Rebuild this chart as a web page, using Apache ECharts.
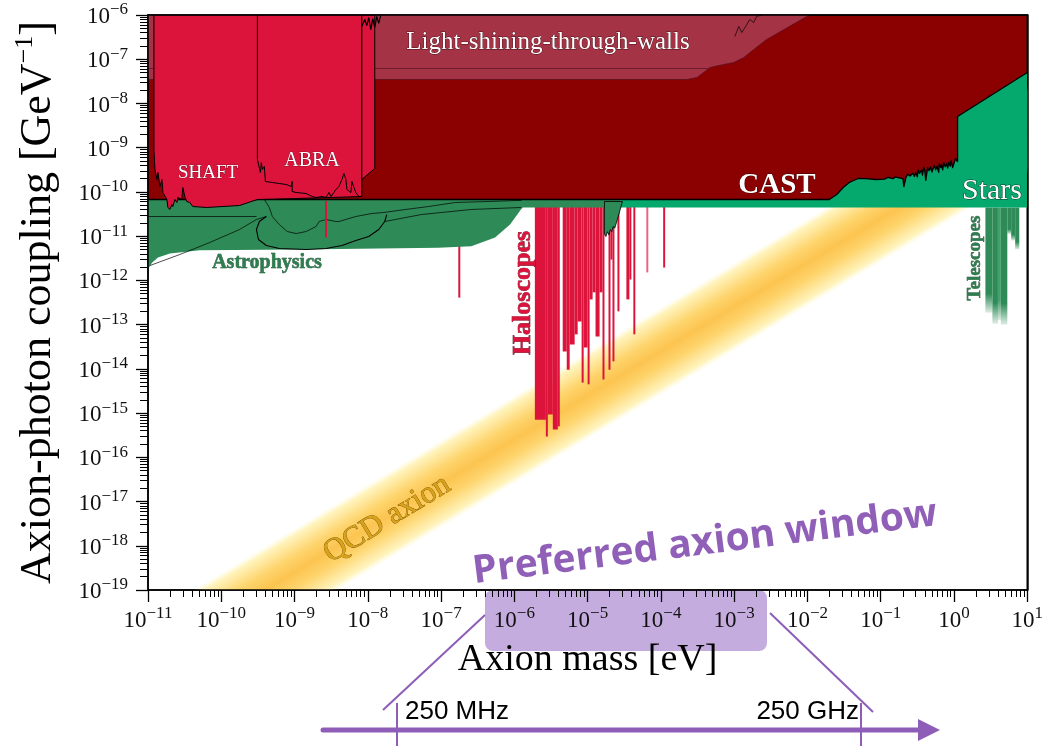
<!DOCTYPE html>
<html><head><meta charset="utf-8">
<script src="https://cdn.jsdelivr.net/npm/echarts@6/dist/echarts.min.js"></script>
<style>html,body{margin:0;padding:0;background:#fff}#c{width:1046px;height:746px}</style>
</head><body><div id="c"></div>
<script>
// All values: x = log10(axion mass / eV), y = log10(g_agamma / GeV^-1)
const massDecades = [-11,-10,-9,-8,-7,-6,-5,-4,-3,-2,-1,0,1];
const couplingDecades = [-19,-18,-17,-16,-15,-14,-13,-12,-11,-10,-9,-8,-7,-6];

// QCD axion band: log g = log m + offset, +/- half width (decades)
const qcdBandLogMass = [-12, 2];
const qcdOffsetLog = -9.6;
const qcdHalfWidth = 1.0;

const lswRegion = [[-11,-6],[-1.973,-6],[-2.557,-6.554],[-2.733,-6.78],[-2.869,-6.961],[-3.005,-7.074],[-3.141,-7.119],[-3.331,-7.187],[-3.398,-7.277],[-3.507,-7.413],[-3.643,-7.458],[-11,-7.458]];
const lswInnerLine = [[-11,-7.21],[-3.331,-7.21]];
const lswWiggle = [[-2.991,-6.486],[-2.937,-6.26],[-2.896,-6.396],[-2.828,-6.217],[-2.788,-6.102],[-2.733,-6.17],[-2.693,-6.03],[-2.62,-6.0]];

const castRegion = [[-11,-6],[1,-6],[1,-7.30],[0.049,-8.295],[0.049,-9.312],[0.02,-9.25],[-0.018,-9.448],[-0.04,-9.30],[-0.05,-9.42],[-0.07,-9.33],[-0.086,-9.46],[-0.10,-9.36],[-0.12,-9.43],[-0.14,-9.34],[-0.154,-9.50],[-0.17,-9.38],[-0.18,-9.45],[-0.20,-9.36],[-0.209,-9.56],[-0.23,-9.42],[-0.25,-9.50],[-0.27,-9.40],[-0.30,-9.55],[-0.32,-9.44],[-0.34,-9.52],[-0.36,-9.45],[-0.385,-9.74],[-0.40,-9.50],[-0.412,-9.44],[-0.43,-9.62],[-0.44,-9.50],[-0.47,-9.58],[-0.49,-9.50],[-0.50,-9.66],[-0.521,-9.56],[-0.54,-9.65],[-0.56,-9.58],[-0.60,-9.64],[-0.63,-9.60],[-0.656,-9.674],[-0.684,-9.88],[-0.697,-9.70],[-0.75,-9.68],[-0.80,-9.66],[-0.833,-9.70],[-0.90,-9.67],[-0.95,-9.71],[-1.064,-9.719],[-1.20,-9.70],[-1.308,-9.697],[-1.43,-9.787],[-1.512,-9.90],[-1.60,-10.06],[-1.702,-10.171],[-11,-10.171]];

const starsRegion = [[-4.552,-10.352],[1,-10.352],[1,-6.5],[-4.552,-6.5]];

const astroRegion = [[-11,-10.171],[-4.552,-10.171],[-4.552,-10.352],[-5.883,-10.352],[-5.910,-10.397],[-6.059,-10.737],[-6.263,-11.03],[-6.588,-11.23],[-7.036,-11.26],[-8.937,-11.30],[-10.294,-11.32],[-10.701,-11.39],[-10.864,-11.48],[-10.946,-11.60],[-11,-11.75]];
const astroWedge = [[-4.770,-10.217],[-4.770,-10.95],[-4.75,-11.008],[-4.73,-10.90],[-4.71,-10.97],[-4.69,-10.85],[-4.67,-10.90],[-4.65,-10.78],[-4.63,-10.82],[-4.59,-10.60],[-4.525,-10.217]];
const astroLines = [
  [[-11,-10.556],[-9.52,-10.556]],
  [[-10.973,-11.664],[-10.566,-11.415],[-10.158,-11.144],[-9.751,-10.850],[-9.52,-10.624],[-9.385,-10.556]],
  [[-9.412,-10.171],[-9.344,-10.352],[-9.303,-10.556],[-9.208,-10.737],[-9.100,-10.895],[-8.978,-10.941],[-8.842,-10.895],[-8.706,-10.782],[-8.665,-10.669],[-8.570,-10.624],[-8.435,-10.669],[-8.394,-10.669],[-8.163,-10.556],[-7.946,-10.488],[-7.783,-10.465],[-7.484,-10.397],[-7.172,-10.330],[-6.805,-10.239],[-6.358,-10.217],[-5.9,-10.19]],
  [[-9.385,-10.556],[-9.480,-10.669],[-9.520,-10.850],[-9.493,-11.076],[-9.385,-11.212],[-9.208,-11.280],[-8.842,-11.302],[-8.570,-11.280],[-8.353,-11.212],[-8.163,-11.099],[-7.987,-11.008],[-7.851,-10.850],[-7.769,-10.669],[-7.742,-10.511]],
  [[-7.769,-10.669],[-7.267,-10.511],[-6.588,-10.397],[-5.910,-10.352]]
];

// SHAFT + low-mass lumped haloscope region
const lowMassHaloRegion = [[-10.919,-6],[-8.082,-6],[-8.082,-10.104],[-8.5,-10.126],[-9.0,-10.15],[-9.507,-10.171],[-9.751,-10.307],[-10.199,-10.352],[-10.389,-10.330],[-10.430,-10.239],[-10.471,-10.217],[-10.498,-10.104],[-10.525,-9.900],[-10.539,-10.171],[-10.593,-10.126],[-10.606,-10.239],[-10.633,-10.171],[-10.661,-10.330],[-10.674,-10.284],[-10.701,-10.397],[-10.729,-10.352],[-10.742,-10.171],[-10.796,-10.013],[-10.810,-9.719],[-10.837,-9.877],[-10.864,-9.561],[-10.878,-9.719],[-10.905,-9.493],[-10.919,-9.041]];
const abraEdge = [[-9.507,-6],[-9.507,-9.267],[-9.466,-9.561],[-9.453,-9.335],[-9.439,-9.493],[-9.412,-9.425],[-9.398,-9.764],[-9.371,-9.787],[-9.303,-9.787],[-9.208,-9.810],[-9.113,-9.832],[-9.045,-9.877],[-9.032,-9.764],[-9.032,-9.991],[-8.978,-10.013],[-8.842,-10.036],[-8.760,-10.104],[-8.706,-10.126],[-8.625,-10.104],[-8.570,-10.126],[-8.530,-10.013],[-8.502,-10.104],[-8.435,-9.945],[-8.394,-9.877],[-8.353,-9.719],[-8.326,-9.584],[-8.299,-9.719],[-8.285,-9.945],[-8.231,-10.013],[-8.217,-9.764],[-8.190,-9.900],[-8.163,-10.013],[-8.122,-10.104],[-8.082,-10.104]];
const extraStripRegion = [[-8.082,-6],[-7.905,-6],[-7.905,-9.47],[-8.082,-9.72]];
const stripTopNoise = [[-8.082,-6.26],[-8.041,-6.10],[-8.014,-6.24],[-7.987,-6.06],[-7.960,-6.33],[-7.932,-6.08],[-7.905,-6.28],[-7.878,-6.03],[-7.851,-6.19],[-7.824,-6.01]];

// Haloscope exclusion columns: [log m left, log m right, log g bottom]; top at haloTop
const haloTop = -10.2;
const haloscopeColumns = [
  [-6.765,-6.738,-12.39],
  [-5.720,-5.570,-15.15],[-5.570,-5.543,-15.53],[-5.543,-5.475,-15.03],[-5.475,-5.407,-15.37],[-5.407,-5.380,-15.30],
  [-5.340,-5.285,-13.61],[-5.285,-5.245,-14.02],[-5.245,-5.177,-13.45],[-5.177,-5.136,-13.22],[-5.136,-5.082,-12.93],
  [-5.082,-5.054,-14.31],[-5.054,-5.000,-13.52],[-5.000,-4.973,-14.35],[-4.973,-4.932,-12.43],[-4.932,-4.892,-12.27],
  [-4.892,-4.837,-13.27],[-4.837,-4.797,-12.27],[-4.797,-4.770,-14.24],[-4.715,-4.688,-14.02],[-4.688,-4.661,-11.53],
  [-4.661,-4.634,-13.83],[-4.593,-4.566,-12.70],[-4.471,-4.430,-12.43],[-4.430,-4.403,-11.98],[-4.376,-4.349,-13.22],
  [-4.199,-4.172,-11.82],[-3.969,-3.942,-11.71]
];
const haloscopeOverAstro = [[-8.584,-8.557,-11.03]];

const telescopeTop = -10.352;
const telescopeColumns = [[0.429,0.524,-12.73],[0.524,0.600,-12.98],[0.600,0.640,-12.90],[0.640,0.728,-13.00],[0.728,0.78,-10.95],[0.78,0.835,-11.10],[0.835,0.891,-11.30]];

const SERIF = "'Liberation Serif','DejaVu Serif',serif";
const minorMass = [], minorCoup = [];
massDecades.slice(0,-1).forEach(n => { for (let k=2;k<=9;k++) minorMass.push(n+Math.log10(k)); });
couplingDecades.slice(0,-1).forEach(n => { for (let k=2;k<=9;k++) minorCoup.push(n+Math.log10(k)); });

function decadeLabel(v){ const e=Math.round(v); return '{b|10}{e|'+(e<0?'\u2212':'')+Math.abs(e)+'}'; }
const richTick = {
  b:{fontFamily:SERIF,fontSize:23,lineHeight:27,verticalAlign:'bottom',color:'#111'},
  e:{fontFamily:SERIF,fontSize:17,lineHeight:17,verticalAlign:'top',color:'#111'}
};

function polySeries(pts, fill, stroke, lw, z){
  return {type:'custom',coordinateSystem:'cartesian2d',clip:true,silent:true,z:z,
    data:pts, encode:{x:0,y:1},
    renderItem:function(params,api){
      if(params.dataIndex!==0) return null;
      return {type:'polygon',shape:{points:pts.map(p=>api.coord(p))},
        style:{fill:fill,stroke:stroke||null,lineWidth:lw||0,lineJoin:'round'}};
    }};
}
function lineSeries(pts,color,width,z){
  return {type:'line',data:pts,symbol:'none',showSymbol:false,silent:true,clip:true,z:z,
    lineStyle:{color:color,width:width},animation:false};
}
function columnSeries(cols, top, fillFn, z){
  return {type:'custom',coordinateSystem:'cartesian2d',clip:true,silent:true,z:z,
    data:cols.map(c=>[c[0],c[1],c[2],top]), encode:{x:[0,1],y:[2,3]},
    renderItem:function(params,api){
      const a=api.coord([api.value(0),api.value(3)]);
      const b=api.coord([api.value(1),api.value(2)]);
      return {type:'rect',shape:{x:a[0],y:a[1],width:Math.max(b[0]-a[0],1.5),height:b[1]-a[1]},
        style:{fill:fillFn(params.dataIndex)}};
    }};
}

const qcdSeries = {type:'custom',coordinateSystem:'cartesian2d',clip:true,silent:true,z:1,
  data:qcdBandLogMass.map(m=>[m,m+qcdOffsetLog]), encode:{x:0,y:1},
  renderItem:function(params,api){
    if(params.dataIndex!==0) return null;
    const m0=qcdBandLogMass[0], m1=qcdBandLogMass[1];
    const c0=api.coord([m0,m0+qcdOffsetLog]), c1=api.coord([m1,m1+qcdOffsetLog]);
    const u0=api.coord([m0,m0+qcdOffsetLog+qcdHalfWidth]), u1=api.coord([m1,m1+qcdOffsetLog+qcdHalfWidth]);
    const l0=api.coord([m0,m0+qcdOffsetLog-qcdHalfWidth]), l1=api.coord([m1,m1+qcdOffsetLog-qcdHalfWidth]);
    let dx=c1[0]-c0[0], dy=c1[1]-c0[1]; const len=Math.hypot(dx,dy); dx/=len; dy/=len;
    const nx=-dy, ny=dx;
    const w=(u0[0]-c0[0])*nx+(u0[1]-c0[1])*ny;
    return {type:'polygon',shape:{points:[l0,l1,u1,u0]},
      style:{fill:{type:'linear',global:true,x:c0[0]-nx*w,y:c0[1]-ny*w,x2:c0[0]+nx*w,y2:c0[1]+ny*w,
        colorStops:[{offset:0,color:'rgba(255,250,215,0)'},{offset:0.08,color:'rgba(255,244,190,1)'},
          {offset:0.32,color:'rgb(254,212,108)'},{offset:0.5,color:'rgb(252,196,80)'},
          {offset:0.68,color:'rgb(254,212,108)'},{offset:0.92,color:'rgba(255,244,190,1)'},
          {offset:1,color:'rgba(255,250,215,0)'}]}}};
  }};

const axisLineStyle={color:'#000',width:1.5};
const chart = echarts.init(document.getElementById('c'),null,{renderer:'canvas'});
const txt = (text,x,y,o)=>Object.assign({type:'text',x:x,y:y,z:100,silent:true,
  style:Object.assign({text:text,fontFamily:SERIF,fontSize:20,fill:'#fff',align:'center',verticalAlign:'middle',
    textAlign:'center',textVerticalAlign:'middle'},o.style||{})},o.el||{});
const PURPLE='#8E5DB8';

chart.setOption({
  animation:false,
  backgroundColor:'#fff',
  grid:{left:148,right:14,top:15,bottom:156,show:true,borderColor:'#000',borderWidth:1.5},
  xAxis:[
    {type:'value',min:-11,max:1,interval:1,position:'bottom',z:10,
     axisLine:{show:true,onZero:false,lineStyle:axisLineStyle},
     axisTick:{show:true,length:12,lineStyle:{color:'#000',width:1.3}},
     splitLine:{show:false},
     axisLabel:{margin:15,formatter:decadeLabel,rich:richTick},
     name:'Axion mass [eV]',nameLocation:'middle',nameGap:51,
     nameTextStyle:{fontFamily:SERIF,fontSize:38,color:'#000'}},
    {type:'value',min:-11,max:1,position:'bottom',z:10,axisLine:{show:false,onZero:false},
     axisTick:{show:true,length:7,customValues:minorMass,lineStyle:{color:'#000',width:1}},
     axisLabel:{show:false},splitLine:{show:false}},
    {type:'value',min:-11,max:1,position:'top',z:10,axisLine:{show:true,onZero:false,lineStyle:axisLineStyle},
     axisTick:{show:false},axisLabel:{show:false},splitLine:{show:false}}
  ],
  yAxis:[
    {type:'value',min:-19,max:-6,interval:1,position:'left',z:10,
     axisLine:{show:true,onZero:false,lineStyle:axisLineStyle},
     axisTick:{show:true,length:12,lineStyle:{color:'#000',width:1.3}},
     splitLine:{show:false},
     axisLabel:{margin:20,formatter:decadeLabel,rich:richTick},
     name:'{a|Axion-photon coupling [GeV}{s|\u22121}{a|]}',nameLocation:'middle',nameGap:88,
     nameTextStyle:{rich:{a:{fontFamily:SERIF,fontSize:44,lineHeight:48,verticalAlign:'bottom',color:'#000'},
       s:{fontFamily:SERIF,fontSize:26,lineHeight:26,verticalAlign:'top',color:'#000'}}}},
    {type:'value',min:-19,max:-6,position:'left',z:10,axisLine:{show:false,onZero:false},
     axisTick:{show:true,length:8,customValues:minorCoup,lineStyle:{color:'#000',width:1}},
     axisLabel:{show:false},splitLine:{show:false}},
    {type:'value',min:-19,max:-6,position:'right',z:10,axisLine:{show:true,onZero:false,lineStyle:axisLineStyle},
     axisTick:{show:false},axisLabel:{show:false},splitLine:{show:false}}
  ],
  series:[
    qcdSeries,
    columnSeries(telescopeColumns,telescopeTop,i=>({type:'linear',x:0,y:0,x2:0,y2:1,
      colorStops:[{offset:0,color:i===2?'#45a070':'#2E8B57'},{offset:0.82,color:i===2?'#45a070':'#2E8B57'},{offset:1,color:'rgba(46,139,87,0.15)'}]}),2),
    columnSeries(haloscopeColumns,haloTop,i=>(i===26?'rgba(220,20,60,0.65)':'#DC143C'),2),
    polySeries(starsRegion,'#05A86D',null,0,3),
    polySeries(astroRegion,'#2E8B57',null,0,4),
    polySeries(astroWedge,'#2E8B57','#000',0.8,4),
    ...astroLines.map((l,i)=>lineSeries(l,'#000',i===3?1.1:0.7,5)),
    columnSeries(haloscopeOverAstro,haloTop,()=> '#DC143C',6),
    polySeries(castRegion,'#8B0000','#000',1.3,7),
    polySeries(lswRegion,'#A53346','#5a1020',0.8,8),
    lineSeries(lswInnerLine,'#6d1c2c',1,8),
    lineSeries(lswWiggle,'#000',0.7,8),
    polySeries(lowMassHaloRegion,'#DC143C','#000',1,9),
    polySeries(extraStripRegion,'#DC143C','#000',1,9),
    lineSeries(abraEdge,'#000',1,10),
    lineSeries(stripTopNoise,'#000',1.2,10)
  ],
  graphic:{elements:[
    {type:'rect',z:1,silent:true,shape:{x:485,y:590,width:282,height:61,r:8},style:{fill:'rgba(140,90,190,0.5)'}},
    txt('Light-shining-through-walls',548,42,{style:{fontSize:25,stroke:'rgba(50,10,15,0.85)',lineWidth:0.8}}),
    txt('SHAFT',208,173,{style:{fontSize:19,stroke:'rgba(60,10,20,0.8)',lineWidth:0.7}}),
    txt('ABRA',312,161,{style:{fontSize:20,stroke:'rgba(60,10,20,0.8)',lineWidth:0.7}}),
    txt('CAST',777,186,{style:{fontSize:29,fontWeight:'bold',stroke:'rgba(30,0,0,0.8)',lineWidth:0.8}}),
    txt('Stars',992,191,{style:{fontSize:30,stroke:'rgba(0,40,20,0.9)',lineWidth:0.9}}),
    txt('Astrophysics',267,263,{style:{fontSize:20,fontWeight:'bold',fill:'#2E7D4F',stroke:'#123d25',lineWidth:0.5}}),
    txt('Haloscopes',523,293,{el:{rotation:Math.PI/2},style:{fontSize:26,fontWeight:'bold',fill:'#DC143C',stroke:'#5a0618',lineWidth:0.6}}),
    txt('Telescopes',975,258,{el:{rotation:Math.PI/2},style:{fontSize:19,fontWeight:'bold',fill:'#2E7D4F',stroke:'#123d25',lineWidth:0.5}}),
    txt('QCD axion',387,519,{el:{rotation:0.545},style:{fontSize:31,fill:'#D9A21B',stroke:'#6e4d00',lineWidth:0.7}}),
    txt('Preferred axion window',705,543,{el:{rotation:0.125},style:{fontFamily:"'Open Sans','Noto Sans',sans-serif",fontSize:39,fontWeight:'bold',fill:'#9060B8'}}),
    {type:'line',z:100,silent:true,shape:{x1:485,y1:615,x2:383,y2:710},style:{stroke:PURPLE,lineWidth:2}},
    {type:'line',z:100,silent:true,shape:{x1:770,y1:613,x2:873,y2:712},style:{stroke:PURPLE,lineWidth:2}},
    {type:'line',z:100,silent:true,shape:{x1:323,y1:730,x2:922,y2:730},style:{stroke:PURPLE,lineWidth:5,lineCap:'round'}},
    {type:'polygon',z:100,silent:true,shape:{points:[[918,719],[940,730],[918,741]]},style:{fill:PURPLE}},
    {type:'line',z:100,silent:true,shape:{x1:397,y1:703,x2:397,y2:746},style:{stroke:PURPLE,lineWidth:2}},
    {type:'line',z:100,silent:true,shape:{x1:861,y1:703,x2:861,y2:746},style:{stroke:PURPLE,lineWidth:2}},
    txt('250 MHz',405,712,{style:{fontFamily:"'Liberation Sans',sans-serif",fontSize:26,fill:'#000',align:'left',textAlign:'left'}}),
    txt('250 GHz',859,712,{style:{fontFamily:"'Liberation Sans',sans-serif",fontSize:26,fill:'#000',align:'right',textAlign:'right'}})
  ]}
});
</script>
</body></html>
